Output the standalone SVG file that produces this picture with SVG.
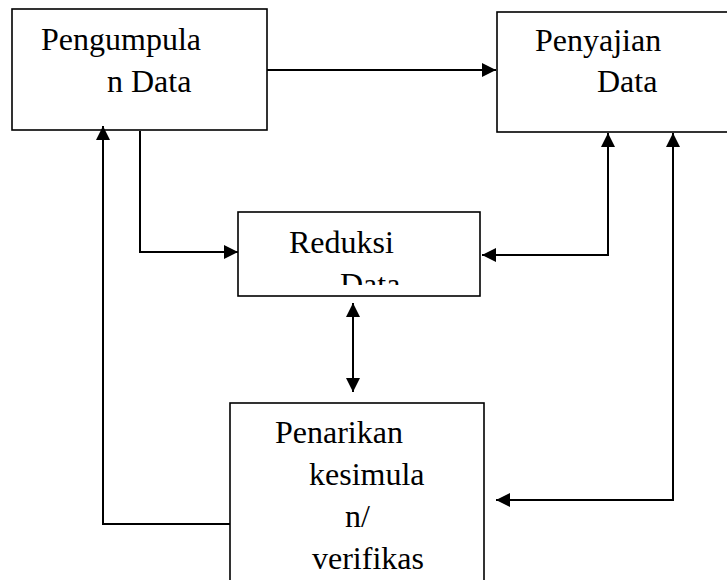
<svg xmlns="http://www.w3.org/2000/svg" width="727" height="580" viewBox="0 0 727 580">
<style>
.box{fill:#fff;stroke:#000;stroke-width:1.6}
.t{font-family:'Liberation Serif','Times New Roman',serif;font-size:32px;fill:#000}
.c{fill:none;stroke:#000;stroke-width:2}
</style>
<defs>
<marker id="ah" viewBox="0 0 14 14" refX="14" refY="7" markerWidth="14" markerHeight="14" markerUnits="userSpaceOnUse" orient="auto-start-reverse">
<path d="M0,0 L14,7 L0,14 Z" fill="#000"/>
</marker>
<clipPath id="clip3"><rect x="238" y="212" width="242" height="73"/></clipPath>
</defs>
<rect width="727" height="580" fill="#fff"/>
<g id="n1">
<rect class="box" x="12" y="9" width="255" height="121"/>
<text class="t" x="41" y="50">Pengumpula</text>
<text class="t" x="107" y="92">n Data</text>
</g>
<g id="n2">
<rect class="box" x="497" y="12" width="240" height="120"/>
<text class="t" x="535" y="51">Penyajian</text>
<text class="t" x="597" y="92">Data</text>
</g>
<g id="n3">
<rect class="box" x="238" y="212" width="242" height="84"/>
<text class="t" x="289" y="253">Reduksi</text>
<text class="t" x="340" y="295" clip-path="url(#clip3)">Data</text>
</g>
<g id="n4">
<rect class="box" x="230" y="403" width="254" height="190"/>
<text class="t" x="275" y="443">Penarikan</text>
<text class="t" x="309" y="485">kesimula</text>
<text class="t" x="345" y="527">n/</text>
<text class="t" x="312" y="569">verifikas</text>
</g>
<g id="connectors">
<path class="c" d="M267,70 L496,70" marker-end="url(#ah)"/>
<path class="c" d="M140,131 L140,252 L238,252" marker-end="url(#ah)"/>
<path class="c" d="M482,255 L608,255 L608,133" marker-start="url(#ah)" marker-end="url(#ah)"/>
<path class="c" d="M353,303 L353,392" marker-start="url(#ah)" marker-end="url(#ah)"/>
<path class="c" d="M230,524 L103,524 L103,126" marker-end="url(#ah)"/>
<path class="c" d="M673,133 L673,500 L496,500" marker-start="url(#ah)" marker-end="url(#ah)"/>
</g>
</svg>
